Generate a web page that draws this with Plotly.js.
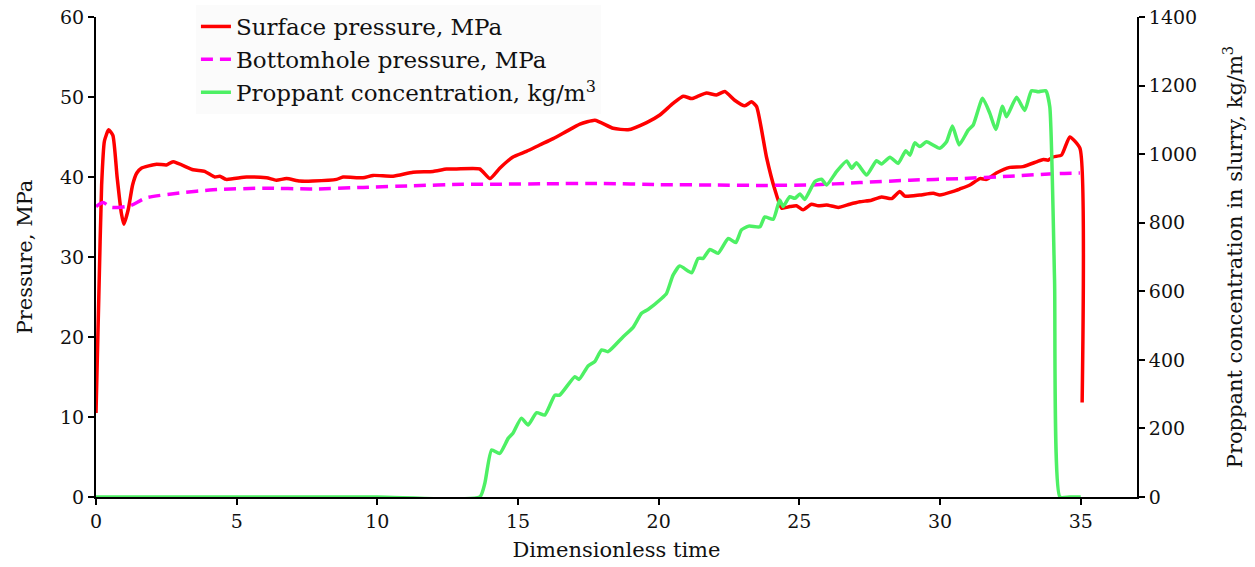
<!DOCTYPE html>
<html>
<head>
<meta charset="utf-8">
<script src="https://cdn.plot.ly/plotly-3.0.1.min.js"></script>
<style>html,body{margin:0;padding:0;background:#fff;}#chart{width:1255px;height:567px;}</style>
</head>
<body>
<div id="chart"></div>
<script>
// Surface pressure, MPa
const surfT = [0,0.1,0.2,0.3,0.45,0.6,0.75,0.9,0.99,1.15,1.3,1.45,1.61,2.15,2.5,2.74,3.45,3.86,4.22,4.4,4.63,5.35,6.06,6.41,6.77,7.24,7.71,8.55,8.78,9.49,9.85,10.56,11.27,11.98,12.46,12.81,13.64,14.0,14.35,14.82,15.3,15.77,16.25,16.72,17.2,17.73,18.38,18.91,19.57,20.04,20.51,20.87,21.17,21.4,21.7,22.05,22.35,22.7,23.06,23.3,23.48,23.83,24.13,24.37,24.66,24.9,25.13,25.43,25.67,25.97,26.38,26.79,27.15,27.56,27.92,28.28,28.57,28.75,29.28,29.76,29.99,30.47,30.7,31.06,31.42,31.65,32.0,32.48,32.95,33.43,33.67,33.84,34.02,34.32,34.61,34.97,35.05];
const surfP = [10.5,25,39,44.5,45.9,45.2,40,35.5,34.1,36,39,40.5,41.1,41.6,41.5,41.9,40.9,40.7,40.0,40.1,39.7,40.0,39.9,39.6,39.8,39.5,39.5,39.7,40.0,39.9,40.2,40.1,40.6,40.7,41.0,41.0,41.0,39.8,41.1,42.5,43.2,44.0,44.8,45.7,46.6,47.1,46.1,45.9,46.8,47.75,49.2,50.1,49.8,50.1,50.5,50.25,50.7,49.6,48.9,49.4,48.8,42.5,38.4,36.1,36.3,36.4,35.9,36.6,36.4,36.5,36.2,36.6,36.9,37.1,37.5,37.3,38.2,37.6,37.75,37.96,37.75,38.2,38.5,39.0,39.8,39.7,40.5,41.2,41.3,41.9,42.2,42.1,42.5,42.75,45.0,43.6,11.8];

// Bottomhole pressure, MPa
const bhT = [0,0.25,0.55,1.2,1.79,2.97,4.16,5.94,7.71,9.49,11.27,13.05,14.29,16,18,20,22,23.6,25.37,27.15,28.93,30.7,32.48,34.26,34.97];
const bhP = [36.3,36.8,36.2,36.4,37.4,38.0,38.4,38.6,38.5,38.7,38.9,39.1,39.1,39.15,39.2,39.05,39.0,38.95,39.0,39.3,39.6,39.8,40.1,40.45,40.5];

// Proppant concentration in slurry, kg/m3
const propT = [0,5,10,13.64,13.82,14.06,14.35,14.65,14.82,15.12,15.36,15.66,15.95,16.31,16.48,17.02,17.17,17.49,17.73,17.97,18.2,18.73,19.09,19.39,19.62,20.1,20.28,20.51,20.75,21.17,21.4,21.58,21.82,22.11,22.47,22.74,22.94,23.2,23.6,23.77,24.07,24.3,24.42,24.66,24.84,25.02,25.19,25.55,25.79,25.97,26.32,26.68,26.86,27.03,27.39,27.74,27.92,28.22,28.51,28.78,28.93,29.1,29.28,29.52,29.99,30.23,30.44,30.68,31.0,31.18,31.51,31.77,31.98,32.22,32.36,32.72,33.01,33.25,33.49,33.76,33.9,34.07,34.26,34.6,35.0];
const propC = [0,0,0,0,40,137,127,171,186,230,210,246,239,297,297,351,343,382,395,429,424,467,495,536,547,579,594,647,674,654,696,696,722,711,754,742,779,790,788,817,810,866,847,876,871,884,868,920,927,910,949,980,959,975,939,981,971,991,973,1010,997,1033,1022,1036,1017,1036,1082,1027,1070,1085,1163,1119,1072,1140,1109,1166,1127,1185,1182,1185,1138,633,0,0,0];

const xTicks = [0,5,10,15,20,25,30,35];

const FONT = "DejaVu Serif, Liberation Serif, serif";
const traces = [
  {x: surfT, y: surfP, type: 'scatter', mode: 'lines', name: 'Surface pressure, MPa', legendgroup: 'a',
   line: {color: '#ff0000', width: 3.5, shape: 'spline', smoothing: 0.5}, yaxis: 'y'},
  {x: bhT, y: bhP, type: 'scatter', mode: 'lines', name: 'Bottomhole pressure, MPa', legendgroup: 'b',
   line: {color: '#ff00ff', width: 3.5, dash: '12px,7px', shape: 'spline', smoothing: 0.6}, yaxis: 'y'},
  {x: propT, y: propC, type: 'scatter', mode: 'lines', name: 'Proppant concentration, kg/m<sup>3</sup>', legendgroup: 'c',
   line: {color: '#4df064', width: 3.5, shape: 'spline', smoothing: 0.5}, yaxis: 'y2'}
];

const layout = {
  width: 1255, height: 567,
  margin: {l: 96, r: 118, t: 17, b: 70, autoexpand: false},
  paper_bgcolor: '#ffffff', plot_bgcolor: '#ffffff',
  font: {family: FONT, size: 19, color: '#111'},
  showlegend: true,
  legend: {x: 0.096, y: 1.025, xanchor: 'left', yanchor: 'top', bgcolor: 'rgba(251,251,251,1)',
           borderwidth: 0, font: {family: FONT, size: 23, color: '#111'}, tracegroupgap: 0, traceorder: 'normal'},
  xaxis: {range: [0, 37], tickvals: xTicks, ticktext: xTicks.map(String), ticks: 'outside', ticklen: 6, tickwidth: 2,
          tickcolor: '#000', showline: true, linecolor: '#000', linewidth: 2, showgrid: false, zeroline: false,
          title: {text: 'Dimensionless time', font: {family: FONT, size: 21}, standoff: 12}},
  yaxis: {range: [0, 60], dtick: 10, ticks: 'outside', ticklen: 6, tickwidth: 2, tickcolor: '#000',
          showline: true, linecolor: '#000', linewidth: 2, showgrid: false, zeroline: false,
          title: {text: 'Pressure, MPa', font: {family: FONT, size: 21}, standoff: 22}},
  yaxis2: {range: [0, 1400], dtick: 200, overlaying: 'y', side: 'right', anchor: 'x', ticks: 'outside', ticklen: 6, tickwidth: 2,
           tickcolor: '#000', showline: true, linecolor: '#000', linewidth: 2, showgrid: false, zeroline: false,
           title: {text: 'Proppant concentration in slurry, kg/m<sup>3</sup>', font: {family: FONT, size: 21}, standoff: 31}}
};

Plotly.newPlot('chart', traces, layout, {displayModeBar: false, staticPlot: true});
</script>
</body>
</html>
